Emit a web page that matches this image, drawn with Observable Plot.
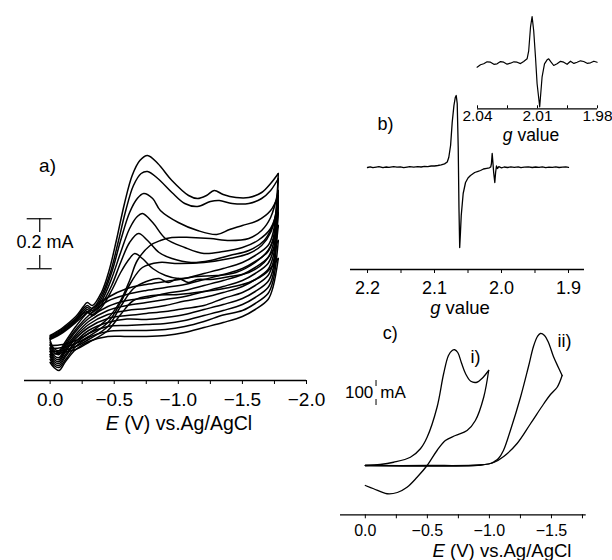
<!DOCTYPE html>
<html><head><meta charset="utf-8">
<script src="https://cdn.jsdelivr.net/npm/d3@7"></script>
<script src="https://cdn.jsdelivr.net/npm/@observablehq/plot@0.6"></script>
<style>
body{margin:0;background:#fff;}
#wrap{position:relative;width:612px;height:560px;overflow:hidden;background:#fff;font-family:"Liberation Sans",Arial,Helvetica,sans-serif;color:#000;}
.lbl{position:absolute;white-space:nowrap;line-height:1;transform:translate(-50%,-50%);}
</style></head><body><div id="wrap"></div>
<script>
const FONT = '"Liberation Sans", Arial, Helvetica, sans-serif';

// ---------- Panel a: repeated CV cycles (E in V, I in µA) ----------
const aMajorTicks = [0, -0.5, -1.0, -1.5, -2.0];
const aMinorTicks = [-0.25, -0.75, -1.25, -1.75];
const aForward = [
 [[0,180],[-0.1,212],[-0.2,256],[-0.26,296],[-0.29,312],[-0.33,300],[-0.4,352],[-0.46,440],[-0.52,568],[-0.58,708],[-0.64,820],[-0.7,880],[-0.76,900],[-0.84,868],[-0.95,800],[-1.08,740],[-1.15,728],[-1.22,740],[-1.28,760],[-1.35,744],[-1.45,732],[-1.55,732],[-1.65,752],[-1.72,788],[-1.78,828]],
 [[0,176],[-0.1,208],[-0.2,248],[-0.26,288],[-0.29,300],[-0.33,288],[-0.4,340],[-0.47,432],[-0.53,552],[-0.59,680],[-0.65,780],[-0.71,828],[-0.76,836],[-0.84,808],[-0.95,752],[-1.05,708],[-1.15,696],[-1.25,716],[-1.32,720],[-1.42,708],[-1.55,708],[-1.65,728],[-1.72,760],[-1.78,808]],
 [[0,172],[-0.1,204],[-0.2,244],[-0.26,280],[-0.29,292],[-0.33,280],[-0.4,328],[-0.48,432],[-0.55,560],[-0.62,672],[-0.68,728],[-0.73,748],[-0.8,728],[-0.86,680],[-1.0,632],[-1.15,600],[-1.3,584],[-1.4,604],[-1.5,620],[-1.62,640],[-1.72,680],[-1.78,740]],
 [[0,168],[-0.1,200],[-0.2,240],[-0.26,272],[-0.29,284],[-0.33,272],[-0.4,316],[-0.48,408],[-0.55,512],[-0.62,608],[-0.68,656],[-0.72,668],[-0.8,632],[-0.9,568],[-1.05,532],[-1.2,508],[-1.35,516],[-1.5,532],[-1.62,560],[-1.72,608],[-1.78,700]],
 [[0,168],[-0.1,196],[-0.2,236],[-0.26,268],[-0.29,276],[-0.33,264],[-0.4,304],[-0.48,380],[-0.55,472],[-0.62,552],[-0.69,588],[-0.76,560],[-0.85,512],[-0.95,488],[-1.1,472],[-1.25,480],[-1.4,500],[-1.55,520],[-1.67,560],[-1.78,672]],
 [[0,164],[-0.1,192],[-0.2,232],[-0.26,260],[-0.29,272],[-0.33,260],[-0.4,292],[-0.48,360],[-0.55,432],[-0.62,488],[-0.66,508],[-0.72,488],[-0.8,448],[-0.9,420],[-1.0,408],[-1.15,416],[-1.3,420],[-1.45,432],[-1.6,472],[-1.7,520],[-1.78,620]],
 [[0,140],[-0.1,144],[-0.2,160],[-0.3,188],[-0.45,248],[-0.55,320],[-0.62,400],[-0.68,480],[-0.78,540],[-0.86,560],[-0.95,572],[-1.1,572],[-1.25,568],[-1.4,560],[-1.55,568],[-1.65,600],[-1.72,652],[-1.78,760]],
 [[0,128],[-0.1,132],[-0.2,148],[-0.3,176],[-0.45,232],[-0.55,312],[-0.63,392],[-0.72,452],[-0.85,472],[-1.0,468],[-1.2,472],[-1.4,488],[-1.55,508],[-1.65,540],[-1.72,592],[-1.78,720]],
 [[0,116],[-0.1,120],[-0.2,136],[-0.3,164],[-0.45,216],[-0.55,296],[-0.65,368],[-0.75,396],[-0.85,408],[-0.92,392],[-1.0,408],[-1.08,392],[-1.15,404],[-1.25,404],[-1.4,416],[-1.55,432],[-1.67,472],[-1.78,560]],
 [[0,104],[-0.1,112],[-0.2,124],[-0.3,152],[-0.45,200],[-0.55,264],[-0.65,320],[-0.8,340],[-1.0,344],[-1.2,356],[-1.4,372],[-1.55,392],[-1.67,424],[-1.78,488]]
];
const aReverseE = [-1.74,-1.7,-1.6,-1.5,-1.35,-1.2,-1.05,-0.9,-0.75,-0.6,-0.45,-0.3,-0.2,-0.12,-0.07,-0.03,0];
const aReverseI = [
 [592,540,500,472,448,428,408,396,384,368,332,276,216,156,120,128,160],
 [568,516,476,448,424,404,384,372,360,344,318,260,204,148,112,120,152],
 [544,492,452,424,400,380,360,348,330,320,296,248,196,140,104,112,144],
 [520,468,428,400,376,356,336,324,312,300,280,236,184,132,92,100,132],
 [496,444,404,376,352,332,318,300,288,280,264,224,176,124,84,92,124],
 [472,420,380,352,328,300,288,276,268,260,248,212,168,116,76,84,116],
 [448,396,356,328,304,284,264,252,244,246,232,200,156,104,68,76,104],
 [424,372,332,304,280,260,240,228,224,220,216,188,148,96,60,68,96],
 [400,348,308,280,262,236,216,204,200,200,196,172,136,84,52,60,84],
 [376,324,284,256,232,212,192,180,176,176,176,156,124,76,40,52,72]
];
const aScaleBarLabel = "0.2 mA";

// ---------- Panel b: EPR spectrum (g value, intensity a.u.) ----------
const bMajorTicks = [2.2, 2.1, 2.0, 1.9];
const bMinorTicks = [2.15, 2.05, 1.95];
const bSpectrum = [[2.200,0.0],[2.196,0.6],[2.192,-0.2],[2.187,0.4],[2.183,0.9],[2.177,-0.1],[2.172,0.5],[2.168,0.1],[2.161,0.8],[2.156,0.3],[2.151,0.7],[2.146,-0.2],[2.141,0.4],[2.137,0.8],[2.131,0.3],[2.125,0.9],[2.120,0.5],[2.115,1.1],[2.110,0.9],[2.105,1.5],[2.100,1.5],[2.095,2.0],[2.090,2.6],[2.085,3.6],[2.081,5.5],[2.0787,10],[2.0760,22],[2.0736,45],[2.0710,62],[2.0690,70],[2.0676,72],[2.0661,64],[2.0646,20],[2.0635,-40],[2.0624,-80],[2.0612,-64],[2.0601,-48],[2.0572,-26],[2.0537,-15],[2.050,-10.5],[2.0463,-8],[2.040,-5],[2.035,-3.8],[2.0313,-3],[2.027,-1.5],[2.022,-0.8],[2.018,-0.3],[2.0160,0.6],[2.0150,4],[2.0139,14],[2.0128,5],[2.0117,-5],[2.0100,-15],[2.0088,-5],[2.0075,1.5],[2.0060,-1],[2.004,0.8],[2.000,-0.3],[1.996,0.5],[1.991,0.0],[1.986,0.6],[1.981,0.2],[1.975,0.7],[1.971,-0.1],[1.966,0.4],[1.960,0.6],[1.954,0.0],[1.949,0.5],[1.944,0.2],[1.939,0.7],[1.934,-0.2],[1.929,0.4],[1.924,0.1],[1.919,0.6],[1.914,0.0],[1.909,0.3],[1.904,0.6],[1.900,0.2]];
const insetMajorTicks = [2.04, 2.01, 1.98];
const insetMinorTicks = [2.025, 1.995];
const insetSpectrum = [[2.0402,-3.4],[2.0385,-1],[2.0369,0],[2.0352,2],[2.0335,1.6],[2.0318,-0.5],[2.0302,0],[2.0285,2.2],[2.0269,1.6],[2.0252,-0.4],[2.0235,0.6],[2.0218,2],[2.0202,1.6],[2.0185,0.2],[2.0169,2.3],[2.0152,5],[2.0144,13],[2.0135,36.6],[2.0127,47.3],[2.0119,33],[2.011,6.6],[2.0102,-20],[2.0089,-43],[2.0077,-13],[2.0065,0],[2.0052,4],[2.0044,5],[2.0032,1.6],[2.0019,-1.7],[2.0002,0],[1.9985,2.5],[1.9969,1.6],[1.9952,-0.5],[1.9935,2.6],[1.9918,0.4],[1.9902,1.6],[1.9885,3],[1.9869,2.3],[1.9852,0.5],[1.9835,1],[1.9818,2.6],[1.9802,1.6]];

// ---------- Panel c: two CVs (E in V, I in mA) ----------
const cMajorTicks = [0, -0.5, -1.0, -1.5];
const cMinorTicks = [-0.25, -0.75, -1.25, -1.75];
const cCurveIForward = [[0,0],[-0.12,4],[-0.228,13],[-0.363,33],[-0.444,67],[-0.498,113],[-0.578,233],[-0.631,367],[-0.67,440],[-0.7,460],[-0.72,463],[-0.745,452],[-0.775,410],[-0.81,365],[-0.85,337],[-0.9,333],[-0.94,348],[-0.97,365],[-0.994,380]];
const cCurveIReverse = [[-0.994,380],[-0.954,273],[-0.887,180],[-0.82,140],[-0.726,120],[-0.645,100],[-0.578,60],[-0.498,0],[-0.417,-47],[-0.336,-87],[-0.258,-108],[-0.175,-113],[-0.067,-93],[0,-80]];
const cCurveIIForward = [[0,0],[-0.5,0],[-0.93,2],[-1.008,8],[-1.04,16],[-1.073,28],[-1.113,60],[-1.169,140],[-1.25,272],[-1.315,396],[-1.355,476],[-1.387,516],[-1.411,528],[-1.444,520],[-1.476,492],[-1.516,436],[-1.556,392],[-1.586,360]];
const cCurveIIReverse = [[-1.586,360],[-1.546,313],[-1.492,284],[-1.438,247],[-1.331,167],[-1.223,88],[-1.115,36],[-1.035,12],[-0.927,2],[0,0]];
const cScaleBarLabel = ["100", "mA"];

// ---------- helpers ----------
const wrap = document.getElementById("wrap");
const f1 = d3.format(".1f"), f2 = d3.format(".2f");
const tickFmt = (major, f) => d => major.some(m => Math.abs(m - d) < 1e-9) ? f(d) : "";
function place(svg, left, top) {
  svg.style.position = "absolute";
  svg.style.left = left + "px";
  svg.style.top = top + "px";
  svg.style.background = "transparent";
  svg.style.overflow = "visible";
  svg.style.maxWidth = "none";
  wrap.appendChild(svg);
}
function label(html, cx, cy, size) {
  const d = document.createElement("div");
  d.className = "lbl";
  d.innerHTML = html;
  d.style.left = cx + "px"; d.style.top = cy + "px"; d.style.fontSize = size + "px";
  wrap.appendChild(d);
}
const xy = {x: d => d[0], y: d => d[1]};

// ---------- Panel a ----------
const aRows = [];
aForward.forEach((pts, k) => pts.forEach(([E, I]) => aRows.push({E, I, s: "f" + k})));
aReverseI.forEach((arr, k) => {
  const end = aForward[k][aForward[k].length - 1];
  aRows.push({E: end[0], I: end[1], s: "r" + k});
  arr.forEach((I, i) => aRows.push({E: aReverseE[i], I, s: "r" + k}));
});
const aY0 = 0;
place(Plot.plot({
  width: 330, height: 300, marginLeft: 24, marginRight: 24, marginTop: 10, marginBottom: 60,
  style: {background: "transparent", fontSize: "19px", fontFamily: FONT, color: "black", overflow: "visible"},
  x: {domain: [0.2, -2.0], ticks: [...aMajorTicks, ...aMinorTicks], tickFormat: tickFmt(aMajorTicks, f1), tickSize: 4, tickPadding: 8, label: null},
  y: {domain: [aY0, 920], axis: null},
  marks: [
    Plot.ruleY([aY0], {strokeWidth: 1.3}),
    Plot.line(aRows, {x: "E", y: "I", z: "s", curve: "catmull-rom", stroke: "black", strokeWidth: 1.5}),
    Plot.ruleY([647, 447], {x1: 0.179, x2: -0.016, strokeWidth: 1.2}),
    Plot.ruleX([0.081], {y1: 647, y2: 592, strokeWidth: 1.2}),
    Plot.ruleX([0.081], {y1: 500, y2: 447, strokeWidth: 1.2}),
    Plot.text([aScaleBarLabel], {x: 0.04, y: 552, text: d => d, fontSize: 18}),
    Plot.text(["a)"], {x: 0.02, y: 860, text: d => d, fontSize: 19})
  ]
}), 0, 140);
label("<i>E</i> (V) vs.Ag/AgCl", 179, 424, 19.5);

// ---------- Panel b main ----------
const bY0 = -102;
place(Plot.plot({
  width: 272, height: 245, marginLeft: 10, marginRight: 28, marginTop: 5, marginBottom: 61,
  style: {background: "transparent", fontSize: "18px", fontFamily: FONT, color: "black", overflow: "visible"},
  x: {domain: [2.2254, 1.8761], ticks: [...bMajorTicks, ...bMinorTicks], tickFormat: tickFmt(bMajorTicks, f1), tickSize: 4, tickPadding: 8, label: null},
  y: {domain: [bY0, 77], axis: null},
  marks: [
    Plot.ruleY([bY0], {strokeWidth: 1.3}),
    Plot.line(bSpectrum, {...xy, stroke: "black", strokeWidth: 1.3}),
    Plot.text(["b)"], {x: 2.1732, y: 43, text: d => d, fontSize: 18})
  ]
}), 340, 85);
label("<i>g</i> value", 460, 308, 18.5);

// ---------- Panel b inset ----------
const insetY0 = -45;
place(Plot.plot({
  width: 172, height: 145, marginLeft: 37, marginRight: 15, marginTop: 10, marginBottom: 36.7,
  style: {background: "transparent", fontSize: "15.5px", fontFamily: FONT, color: "black", overflow: "visible"},
  x: {domain: [2.04, 1.98], ticks: insetMajorTicks, tickFormat: f2, tickSize: 0, tickPadding: 1, label: null},
  y: {domain: [insetY0, 53.3], axis: null},
  marks: [
    Plot.ruleY([insetY0], {strokeWidth: 1.3}),
    Plot.ruleX([...insetMajorTicks, ...insetMinorTicks], {x: d => d, y1: insetY0, y2: insetY0 + 3, strokeWidth: 1}),
    Plot.line(insetSpectrum, {...xy, stroke: "black", strokeWidth: 1.2})
  ]
}), 440, 0);
label("<i>g</i> value", 531, 135.5, 17.5);

// ---------- Panel c ----------
const cY0 = -197.2;
place(Plot.plot({
  width: 282, height: 240, marginLeft: 10, marginRight: 26.3, marginTop: 5, marginBottom: 45.7,
  style: {background: "transparent", fontSize: "16px", fontFamily: FONT, color: "black", overflow: "visible"},
  x: {domain: [0.2, -1.78], ticks: [...cMajorTicks, ...cMinorTicks], tickFormat: tickFmt(cMajorTicks, f1), tickSize: 4, tickPadding: 6, label: null},
  y: {domain: [cY0, 560], axis: null},
  marks: [
    Plot.ruleY([cY0], {strokeWidth: 1.3}),
    Plot.line(cCurveIForward, {...xy, curve: "catmull-rom", stroke: "black", strokeWidth: 1.3}),
    Plot.line(cCurveIReverse, {...xy, curve: "catmull-rom", stroke: "black", strokeWidth: 1.3}),
    Plot.line(cCurveIIForward, {...xy, curve: "catmull-rom", stroke: "black", strokeWidth: 1.3}),
    Plot.line(cCurveIIReverse, {...xy, curve: "catmull-rom", stroke: "black", strokeWidth: 1.3}),
    Plot.ruleX([-0.0863], {y1: 340, y2: 316, strokeWidth: 1}),
    Plot.ruleX([-0.0863], {y1: 264, y2: 240, strokeWidth: 1}),
    Plot.text([cScaleBarLabel[0]], {x: -0.0645, y: 292, text: d => d, textAnchor: "end", fontSize: 17}),
    Plot.text([cScaleBarLabel[1]], {x: -0.121, y: 292, text: d => d, textAnchor: "start", fontSize: 17}),
    Plot.text(["c)"], {x: -0.2016, y: 528, text: d => d, fontSize: 18}),
    Plot.text(["i)"], {x: -0.887, y: 433, text: d => d, fontSize: 18}),
    Plot.text(["ii)"], {x: -1.605, y: 496, text: d => d, fontSize: 18})
  ]
}), 330, 320);
label("<i>E</i> (V) vs.Ag/AgCl", 502, 550.5, 18.5);
</script></body></html>
